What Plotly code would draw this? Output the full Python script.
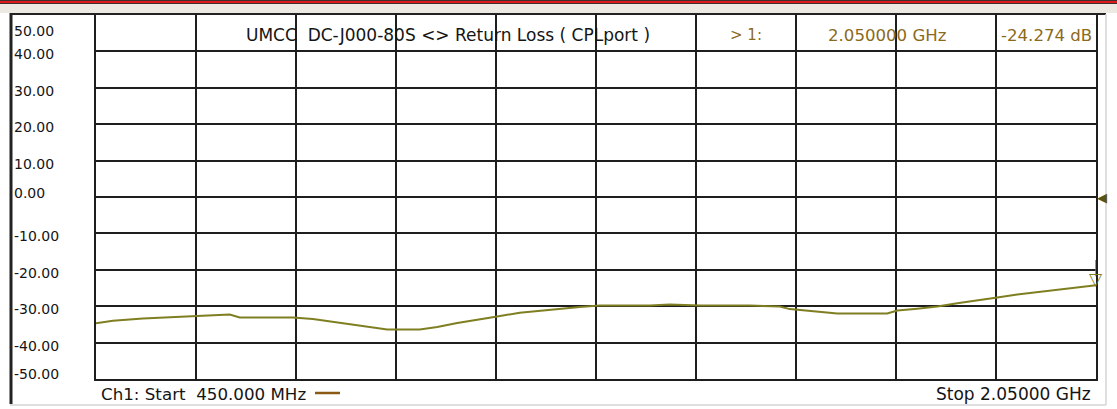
import plotly.graph_objects as go

# ---------------- data ----------------
freq_mhz = [450, 477, 525, 581, 664, 680, 765, 797, 829, 856, 884, 916, 968, 996,
            1028, 1064, 1092, 1128, 1172, 1224, 1256, 1336, 1368, 1416, 1496, 1544,
            1560, 1604, 1636, 1716, 1732, 1764, 1796, 1828, 1860, 1892, 1924, 1956,
            1988, 2020, 2050]
return_loss_db = [-34.7, -34.0, -33.4, -32.9, -32.3, -33.1, -33.1, -33.5, -34.3, -35.1,
                  -35.8, -36.4, -36.4, -35.7, -34.6, -33.5, -32.8, -31.8, -31.0, -30.2,
                  -29.8, -29.8, -29.5, -29.8, -29.8, -30.1, -30.8, -31.4, -32.0, -32.0,
                  -31.2, -30.7, -30.1, -29.2, -28.5, -27.6, -26.8, -26.2, -25.5, -24.8,
                  -24.274]
y_ticks = [50, 40, 30, 20, 10, 0, -10, -20, -30, -40, -50]
y_tick_labels = ["50.00", "40.00", "30.00", "20.00", "10.00", "0.00",
                 "-10.00", "-20.00", "-30.00", "-40.00", "-50.00"]
marker_freq_mhz = [2050]
marker_db = [-24.274]
title_text = "UMCC  DC-J000-80S <> Return Loss ( CPLport )"
marker_label = "> 1:"
marker_freq_text = "2.050000 GHz"
marker_value_text = "-24.274 dB"
start_text = "Ch1: Start  450.000 MHz"
stop_text = "Stop 2.05000 GHz"

# ---------------- geometry helpers ----------------
W, H = 1117, 409
ML, MR, MT, MB = 96, 21, 15, 30
PW, PH = W - ML - MR, H - MT - MB


def px(x):
    return (x - ML) / PW


def py(y):
    return (H - MB - y) / PH


FONT = "DejaVu Sans"
TRACE = "#7f7f22"
BROWN = "#8c6a1c"
GRID = "#1e1e1e"
TXT = "#151515"

fig = go.Figure()
fig.add_trace(go.Scatter(x=freq_mhz, y=return_loss_db, mode="lines",
                         line=dict(color=TRACE, width=2), hoverinfo="skip",
                         showlegend=False))

ann = []
# y tick labels (left aligned like the analyzer display)
for v, t in zip(y_ticks, y_tick_labels):
    if v == y_ticks[0]:
        shift = -16
    elif v == y_ticks[-1]:
        shift = 5
    elif v == 0:
        shift = 4
    elif v > 0:
        shift = -3
    else:
        shift = -3
    ann.append(dict(x=px(12), y=v, xref="paper", yref="y", text=t, showarrow=False,
                    xanchor="left", yanchor="middle", yshift=shift,
                    font=dict(family=FONT, size=14, color=TXT)))

# header row
ann.append(dict(x=px(448), y=py(35), xref="paper", yref="paper", text=title_text,
                showarrow=False, xanchor="center", yanchor="middle",
                font=dict(family=FONT, size=17, color=TXT)))
ann.append(dict(x=px(764), y=py(35), xref="paper", yref="paper", text=marker_label,
                showarrow=False, xanchor="right", yanchor="middle",
                font=dict(family=FONT, size=15, color=BROWN)))
ann.append(dict(x=px(887), y=py(35), xref="paper", yref="paper", text=marker_freq_text,
                showarrow=False, xanchor="center", yanchor="middle",
                font=dict(family=FONT, size=16.6, color=BROWN)))
ann.append(dict(x=px(1094), y=py(35), xref="paper", yref="paper", text=marker_value_text,
                showarrow=False, xanchor="right", yanchor="middle",
                font=dict(family=FONT, size=16.6, color=BROWN)))
# footer
ann.append(dict(x=px(99), y=py(394), xref="paper", yref="paper", text=start_text,
                showarrow=False, xanchor="left", yanchor="middle",
                font=dict(family=FONT, size=16.7, color=TXT)))
ann.append(dict(x=px(1093), y=py(394), xref="paper", yref="paper", text=stop_text,
                showarrow=False, xanchor="right", yanchor="middle",
                font=dict(family=FONT, size=17, color=TXT)))
# marker triangle
for mx, my in zip(marker_freq_mhz, marker_db):
    ann.append(dict(x=mx, y=my, xref="x", yref="y", text="▽", showarrow=False,
                    xanchor="center", yanchor="bottom", yshift=-6,
                    font=dict(family="DejaVu Sans", size=17, color=TRACE)))
# reference level marker
ann.append(dict(x=1.0, y=0, xref="paper", yref="y", text="◀", showarrow=False,
                xanchor="left", yanchor="middle", xshift=-1,
                font=dict(family="DejaVu Sans", size=13, color="#55551a")))

shapes = [
    # top window decoration
    dict(type="rect", xref="paper", yref="paper", x0=px(0), x1=px(W), y0=py(0), y1=py(4),
         fillcolor="#3a3030", line=dict(width=0), layer="above"),
    dict(type="rect", xref="paper", yref="paper", x0=px(0), x1=px(W), y0=py(1), y1=py(3),
         fillcolor="#e01818", line=dict(width=0), layer="above"),
    dict(type="rect", xref="paper", yref="paper", x0=px(0), x1=px(W), y0=py(4), y1=py(13),
         fillcolor="#ebe9e2", line=dict(width=0), layer="above"),
    dict(type="line", xref="paper", yref="paper", x0=px(10), x1=px(1106), y0=py(14), y1=py(14),
         line=dict(color="#222222", width=2), layer="above"),
    # left frame
    dict(type="line", xref="paper", yref="paper", x0=px(11), x1=px(11), y0=py(13), y1=py(404),
         line=dict(color="#222222", width=3), layer="above"),
    # right / bottom light border
    dict(type="line", xref="paper", yref="paper", x0=px(1106), x1=px(1106), y0=py(14), y1=py(405),
         line=dict(color="#d4d4d4", width=1.5), layer="above"),
    dict(type="line", xref="paper", yref="paper", x0=px(10), x1=px(1106), y0=py(405), y1=py(405),
         line=dict(color="#d4d4d4", width=1.5), layer="above"),
    # legend swatch next to start text
    dict(type="line", xref="paper", yref="paper", x0=px(315), x1=px(340), y0=py(393), y1=py(393),
         line=dict(color="#8a5a12", width=2.5), layer="above"),
]
for mx, my in zip(marker_freq_mhz, marker_db):
    shapes.append(dict(type="line", xref="x", yref="y", x0=mx, x1=mx, y0=my + 2.5, y1=my + 7,
                       line=dict(color=TRACE, width=1.5), layer="above"))

fig.update_layout(
    width=W, height=H,
    margin=dict(l=ML, r=MR, t=MT, b=MB, pad=0),
    paper_bgcolor="white", plot_bgcolor="white",
    showlegend=False,
    annotations=ann, shapes=shapes,
    xaxis=dict(range=[450, 2050], tick0=450, dtick=160, showticklabels=False,
               showgrid=True, gridcolor=GRID, gridwidth=2, zeroline=False,
               showline=True, linecolor=GRID, linewidth=2, mirror=True, ticks=""),
    yaxis=dict(range=[-50, 50], tick0=-50, dtick=10, showticklabels=False,
               showgrid=True, gridcolor=GRID, gridwidth=2, zeroline=False,
               showline=True, linecolor=GRID, linewidth=2, mirror=True, ticks=""),
)

fig.write_html("out.html", config={"displayModeBar": False},
               post_script="document.body.style.margin='0';document.body.style.overflow='hidden';")
